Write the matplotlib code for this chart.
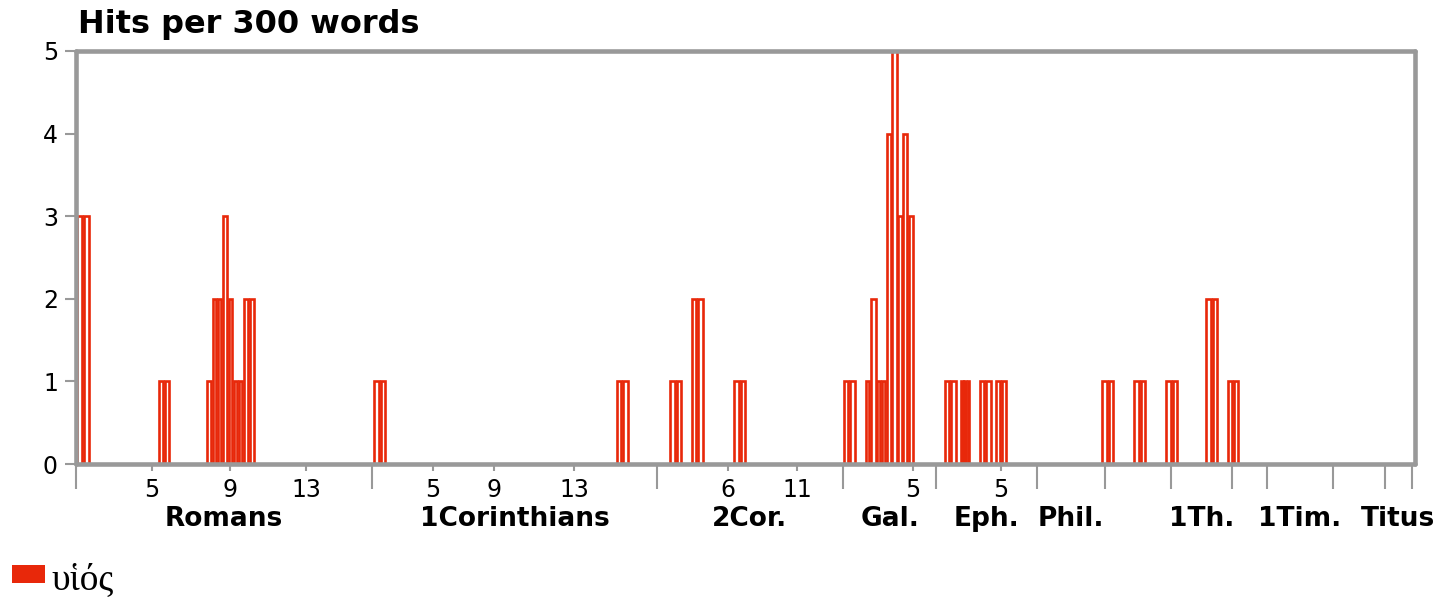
import numpy as np
import matplotlib
matplotlib.use("Agg")
import matplotlib.pyplot as plt
from matplotlib.patches import Rectangle

# word counts of the books (Greek text), x axis runs in words
books = ["Romans", "1Corinthians", "2Cor.", "Gal.", "Eph.", "Phil.", "Col.",
         "1Th.", "2Th.", "1Tim.", "2Tim.", "Titus"]
book_words = [7111, 6829, 4477, 2230, 2422, 1629, 1582, 1481, 823, 1591, 1238, 659]
shown_books = ["Romans", "1Corinthians", "2Cor.", "Gal.", "Eph.", "Phil.",
               "1Th.", "1Tim.", "Titus"]
x_end = 32130

# chapter ticks (word position, label)
chap_pos = [1824, 3696, 5520, 8568, 10032, 11952, 15648, 17304, 20088, 22200]
chap_lab = ["5", "9", "13", "5", "9", "13", "6", "11", "5", "5"]

# bars: left edge and right edge (words), hits per 300 words
bar_left = [0, 168,
            1968, 2112,
            3120, 3257, 3377, 3511, 3655, 3775, 3895, 4015, 4152,
            7135, 7288,
            12960, 13112,
            14239, 14395,
            14760, 14912,
            15775, 15931,
            18415, 18564,
            18936, 19056, 19217, 19327, 19440, 19577, 19721, 19841, 19975,
            20839, 20988,
            21223, 21305, 21384,
            21679, 21828,
            22063, 22207,
            24617, 24768,
            25380, 25536,
            26153, 26304,
            27108, 27260,
            27624, 27774]
bar_right = [168, 336,
             2112, 2256,
             3257, 3377, 3511, 3655, 3775, 3895, 4015, 4152, 4296,
             7288, 7440,
             13112, 13265,
             14395, 14551,
             14912, 15065,
             15931, 16087,
             18564, 18713,
             19056, 19217, 19327, 19440, 19577, 19721, 19841, 19975, 20112,
             20988, 21137,
             21305, 21384, 21463,
             21828, 21977,
             22207, 22351,
             24768, 24919,
             25536, 25692,
             26304, 26455,
             27260, 27413,
             27774, 27924]
bar_hits = [3, 3,
            1, 1,
            1, 2, 2, 3, 2, 1, 1, 2, 2,
            1, 1,
            1, 1,
            1, 1,
            2, 2,
            1, 1,
            1, 1,
            1, 2, 1, 1, 4, 5, 3, 4, 3,
            1, 1,
            1, 1, 1,
            1, 1,
            1, 1,
            1, 1,
            1, 1,
            1, 1,
            2, 2,
            1, 1]

red = "#e8280a"
grey = "#999999"

W, H = 1437, 603
fig = plt.figure(figsize=(W / 100, H / 100), dpi=100)
ax = fig.add_axes([76 / W, 1 - 464 / H, (1414.5 - 76) / W, (464 - 51) / H])

# small inset so neighbouring bars show a double edge
inset = 22
left = np.array(bar_left) + inset
width = np.array(bar_right) - np.array(bar_left) - 2 * inset
ax.bar(left, bar_hits, width=width, align="edge", facecolor="white",
       edgecolor=red, linewidth=1.9, zorder=2)

ax.set_xlim(0, x_end)
ax.set_ylim(0, 5)

for s in ax.spines.values():
    s.set_color(grey)
    s.set_linewidth(3.3)
    s.set_capstyle("round")
    s.set_zorder(3)

ax.set_yticks(range(6))
ax.tick_params(axis="y", direction="out", length=8, width=1.5, color=grey,
               labelsize=17, pad=5)

ax.set_xticks(chap_pos)
ax.set_xticklabels(chap_lab)
ax.tick_params(axis="x", which="major", direction="out", length=5, width=1.5,
               color=grey, labelsize=17, pad=5)

bounds = np.cumsum([0] + book_words)
ax.set_xticks(bounds, minor=True)
ax.tick_params(axis="x", which="minor", direction="out", length=18, width=1.5,
               color=grey)

for i, b in enumerate(books):
    if b in shown_books:
        mid = (bounds[i] + bounds[i + 1]) / 2
        ax.text(mid, -0.133, b, transform=ax.get_xaxis_transform(),
                ha="center", va="center", fontsize=19, fontweight="bold")

fig.text(78 / W, 1 - 25 / H, "Hits per 300 words", fontsize=23,
         fontweight="bold", va="center", ha="left")

# legend
fig.patches.append(Rectangle((12 / W, 1 - 583 / H), 33 / W, 18 / H,
                             transform=fig.transFigure, facecolor=red,
                             edgecolor="none"))
fig.text(51 / W, 1 - 581 / H, "υἱός", fontsize=27,
         family=["Liberation Serif", "DejaVu Serif"], va="center", ha="left")

fig.savefig("out.png", dpi=100)
